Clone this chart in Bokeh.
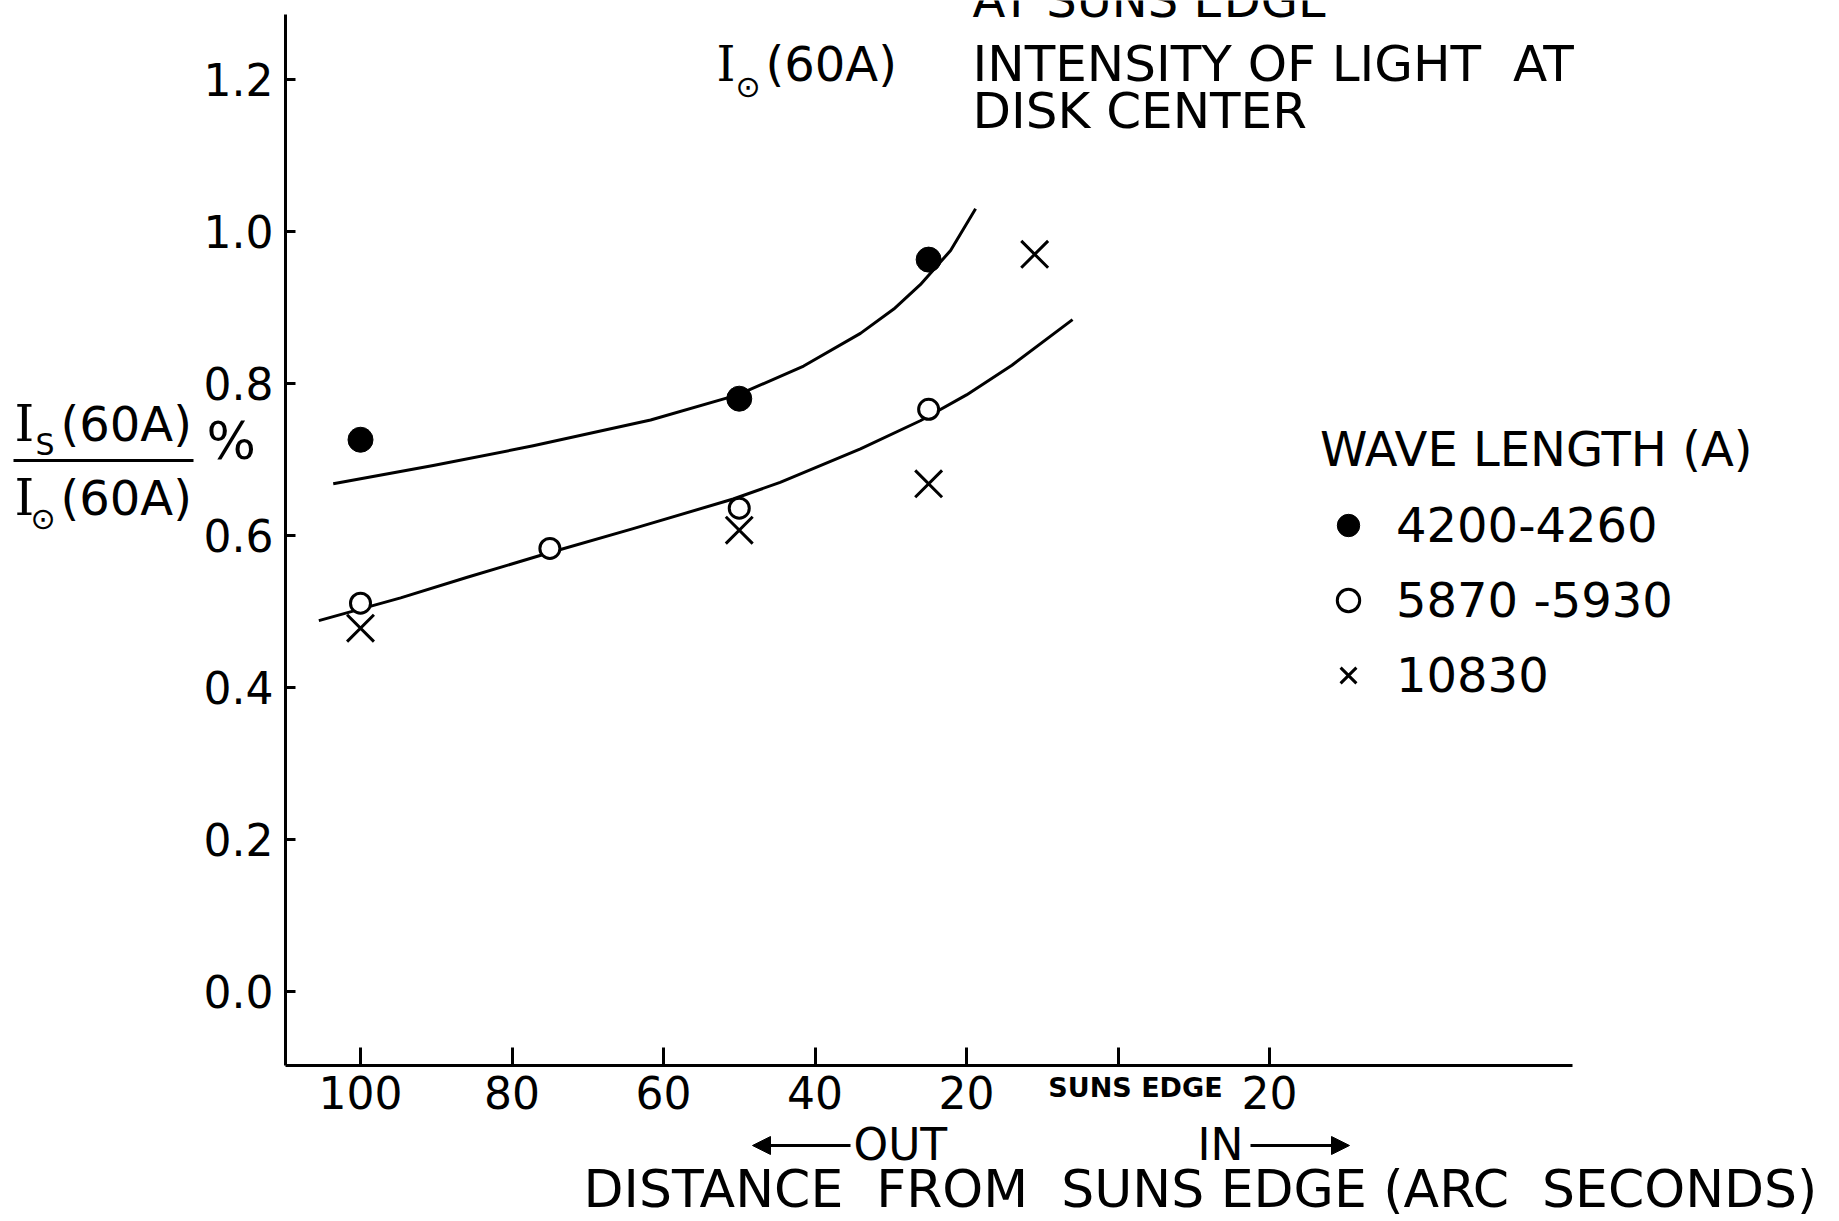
from bokeh.plotting import figure
from bokeh.models import (Label, Arrow, NormalHead, FixedTicker, Range1d, Legend,
                          LegendItem, LinearAxis)
from bokeh.embed import file_html
from bokeh.resources import INLINE

# ---------------- data ----------------
x_ticks = [-100, -80, -60, -40, -20, 0, 20]          # negative = outside the sun (OUT), positive = IN
x_tick_labels = ["100", "80", "60", "40", "20", "", "20"]
y_ticks = [0.0, 0.2, 0.4, 0.6, 0.8, 1.0, 1.2]
y_tick_labels = ["0.0", "0.2", "0.4", "0.6", "0.8", "1.0", "1.2"]

series_names = ["4200-4260", "5870 -5930", "10830"]
dist_4200 = [-100, -50, -25]
ratio_4200 = [0.726, 0.780, 0.963]
dist_5870 = [-100, -75, -50, -25]
ratio_5870 = [0.511, 0.583, 0.636, 0.766]
dist_10830 = [-100, -50, -25, -11]
ratio_10830 = [0.478, 0.607, 0.668, 0.970]

curve_4200_x = [-103.6, -90.4, -77.2, -61.7, -50.2, -41.5, -34.0, -29.6, -26.1, -22.1, -18.8]
curve_4200_y = [0.668, 0.692, 0.718, 0.752, 0.785, 0.823, 0.866, 0.898, 0.930, 0.975, 1.030]
curve_5870_x = [-105.5, -94.7, -85.9, -75.2, -64.0, -50.8, -44.6, -34.0, -26.1, -20.0, -14.0, -6.0]
curve_5870_y = [0.488, 0.518, 0.545, 0.577, 0.609, 0.648, 0.670, 0.714, 0.751, 0.785, 0.824, 0.884]

# ---------------- layout helpers (pixel -> data for annotation placement) ----------------
W, H = 1839, 1221
X0_PX, X_SCALE = 1117.5, 7.575
Y0_PX, Y_SCALE = 991.0, 760.0
AXIS_LEFT_PX, AXIS_RIGHT_PX = 285, 1572
AXIS_BOTTOM_PX, AXIS_TOP_PX = 1065, 14
NB = "\u00a0"


def dx(px):
    return (px - X0_PX) / X_SCALE


def dy(py):
    return (Y0_PX - py) / Y_SCALE


FONT = "DejaVu Sans"

p = figure(width=W, height=H, output_backend="svg", toolbar_location=None,
           x_range=Range1d(dx(0), dx(W)), y_range=Range1d(dy(H), dy(0)),
           x_axis_location=None, y_axis_location=None, min_border=0)
p.grid.visible = False
p.outline_line_color = None
p.background_fill_color = "white"
p.border_fill_color = "white"

xa = LinearAxis(fixed_location=dy(AXIS_BOTTOM_PX))
xa.ticker = FixedTicker(ticks=x_ticks)
xa.major_label_overrides = dict(zip(x_ticks, x_tick_labels))
xa.bounds = (dx(AXIS_LEFT_PX), dx(AXIS_RIGHT_PX))
xa.axis_line_width = 3
xa.major_tick_line_width = 3
xa.major_tick_in = 18
xa.major_tick_out = 0
xa.minor_tick_line_color = None
xa.major_label_text_font = FONT
xa.major_label_text_font_size = "44px"
xa.major_label_standoff = 10
xa.major_label_text_color = "black"
p.add_layout(xa, "below")

ya = LinearAxis(fixed_location=dx(AXIS_LEFT_PX))
ya.ticker = FixedTicker(ticks=y_ticks)
ya.major_label_overrides = dict(zip(y_ticks, y_tick_labels))
ya.bounds = (dy(AXIS_BOTTOM_PX), dy(AXIS_TOP_PX))
ya.axis_line_width = 3
ya.major_tick_line_width = 3
ya.major_tick_in = 10
ya.major_tick_out = 0
ya.minor_tick_line_color = None
ya.major_label_text_font = FONT
ya.major_label_text_font_size = "44px"
ya.major_label_standoff = 12
ya.major_label_text_color = "black"
p.add_layout(ya, "left")

# fitted curves
p.line(curve_4200_x, curve_4200_y, line_color="black", line_width=3, line_join="round")
p.line(curve_5870_x, curve_5870_y, line_color="black", line_width=3, line_join="round")

# data points
r1 = p.scatter(dist_4200, ratio_4200, marker="circle", size=25, fill_color="black", line_color="black")
r2 = p.scatter(dist_5870, ratio_5870, marker="circle", size=20, fill_color="white",
               line_color="black", line_width=3)
r3 = p.scatter(dist_10830, ratio_10830, marker="x", size=38, line_color="black", line_width=3)

legend = Legend(items=[LegendItem(label=series_names[0], renderers=[r1]),
                       LegendItem(label=series_names[1], renderers=[r2]),
                       LegendItem(label=series_names[2], renderers=[r3])],
                title="WAVE LENGTH (A)",
                location=(1320, H - 706))
legend.border_line_color = None
legend.background_fill_alpha = 0
legend.label_text_font = FONT
legend.label_text_font_size = "48px"
legend.label_text_color = "black"
legend.title_text_font = FONT
legend.title_text_font_size = "48px"
legend.title_text_font_style = "normal"
legend.title_text_color = "black"
legend.glyph_width = 56
legend.glyph_height = 62
legend.label_height = 62
legend.label_standoff = 20
legend.spacing = 13
legend.padding = 0
legend.margin = 0
legend.title_standoff = 17
p.add_layout(legend)


def lab(text, px, py, size, align="left", font=FONT, style="normal"):
    p.add_layout(Label(x=dx(px), y=dy(py), text=text, text_font=font,
                       text_font_size=f"{size}px", text_align=align,
                       text_baseline="middle", text_font_style=style, text_color="black"))


# top annotation block
lab("AT" + NB + "SUNS" + NB + "EDGE", 972, -1, 48)
lab("I", 716, 63, 48, font="DejaVu Serif")
lab("\u2299", 735, 86, 30)
lab("(60A)", 765, 63, 48)
lab("INTENSITY OF LIGHT" + NB + NB + "AT", 972, 63, 50)
lab("DISK CENTER", 972, 110, 50)

# y-axis label (fraction)
lab("I", 14, 423, 50, font="DejaVu Serif")
lab("S", 35, 444, 30)
lab("(60A)", 60, 423, 48)
p.add_layout(Arrow(x_start=dx(13), y_start=dy(460), x_end=dx(193), y_end=dy(460),
                   start=None, end=None, line_width=3, line_color="black"))
lab("I", 14, 497, 50, font="DejaVu Serif")
lab("\u2299", 30, 518, 30)
lab("(60A)", 60, 497, 48)
lab("%", 206, 440, 52)

# x-axis extras
lab("SUNS EDGE", 1135, 1087, 27, align="center", style="bold")
p.add_layout(Arrow(x_start=dx(850), y_start=dy(1145), x_end=dx(752), y_end=dy(1145),
                   line_width=3, line_color="black",
                   end=NormalHead(size=18, fill_color="black", line_color="black")))
lab("OUT", 853, 1144, 44)
lab("IN", 1243, 1144, 44, align="right")
p.add_layout(Arrow(x_start=dx(1250), y_start=dy(1145), x_end=dx(1349), y_end=dy(1145),
                   line_width=3, line_color="black",
                   end=NormalHead(size=18, fill_color="black", line_color="black")))
lab("DISTANCE" + NB + NB + "FROM" + NB + NB + "SUNS EDGE (ARC" + NB + NB + "SECONDS)", 583, 1188, 52)

open("out.html", "w").write(file_html(p, INLINE))
